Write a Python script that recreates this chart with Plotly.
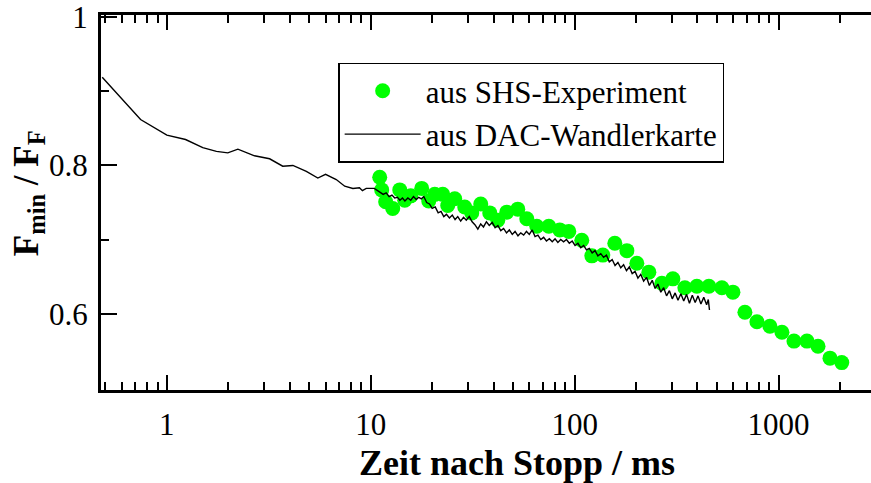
import plotly.graph_objects as go

# ---- data ----
shs_t = [11.06, 11.31, 11.83, 12.81, 13.87, 14.67, 15.70, 17.77, 19.24, 20.59,
         22.53, 23.84, 25.80, 28.89, 31.27, 34.61, 38.32, 41.95, 46.44, 52.58,
         58.21, 65.17, 74.65, 84.54, 93.55, 108.3, 121.3, 137.4, 157.3, 180.2,
         201.7, 231.0, 267.6, 302.9, 346.9, 397.2, 455.0, 527.0, 596.8, 683.4,
         782.6, 906.5, 1038, 1189, 1377, 1560, 1786, 2040]
shs_f = [0.784, 0.767, 0.751, 0.742, 0.767, 0.753, 0.759, 0.769, 0.752, 0.761,
         0.761, 0.746, 0.755, 0.744, 0.736, 0.748, 0.736, 0.726, 0.737, 0.741,
         0.728, 0.718, 0.718, 0.713, 0.711, 0.699, 0.678, 0.679, 0.695, 0.685,
         0.668, 0.656, 0.641, 0.647, 0.635, 0.637, 0.637, 0.635, 0.629, 0.602,
         0.589, 0.583, 0.575, 0.563, 0.563, 0.556, 0.540, 0.534]

dac_t = [0.482, 0.743, 1.0, 1.235, 1.5, 1.75, 1.99, 2.23, 2.69, 3.19, 3.70, 4.15,
         4.83, 5.5, 6.0, 6.77, 7.45, 8.17, 8.8, 9.1, 9.5, 10.0,
         10.4, 10.8, 11.2, 11.5, 11.9, 12.3, 12.7, 13.1, 13.5, 13.9, 14.3, 14.7,
         15.2, 15.7, 16.2, 16.7, 17.2, 17.7, 18.2, 18.8, 19.4, 20.0, 20.7, 21.4,
         22.1, 22.8, 23.5, 24.3, 25.1, 25.9, 26.7, 27.6, 28.5, 29.4, 30.4, 31.4,
         32.4, 33.5, 34.6, 35.7, 36.9, 38.1, 39.4, 40.7, 42.0, 43.4, 44.8, 46.3,
         47.8, 49.4, 51.0, 52.7, 54.4, 56.2, 58.0, 59.9, 61.9, 63.9, 66.0, 68.2,
         70.4, 72.7, 75.1, 77.6, 80.1, 82.7, 85.4, 88.2, 91.1, 94.1, 97.2, 100.4,
         103.7, 107.1, 110.6, 114.2, 117.9, 121.8, 125.8, 129.9, 134.2, 138.6,
         143.1, 147.8, 152.7, 157.7, 162.9, 168.2, 173.7, 179.4, 185.3, 191.4,
         197.7, 204.2, 210.9, 217.8, 225.0, 232.4, 240.0, 247.9, 256.0, 264.4,
         273.1, 282.1, 291.4, 300.9, 310.8, 321.0, 331.6, 342.5, 353.7, 365.3,
         377.3, 389.7, 402.5, 415.8, 429.4, 443.5, 452.0, 458.0]
dac_f = [0.919, 0.862, 0.841, 0.835, 0.824, 0.819, 0.817, 0.822, 0.813, 0.809, 0.799, 0.800,
         0.792, 0.783, 0.788, 0.781, 0.772, 0.769, 0.770, 0.766, 0.769, 0.769,
         0.769, 0.766, 0.763, 0.761, 0.763, 0.758, 0.760, 0.756, 0.757, 0.753, 0.756, 0.752,
         0.756, 0.753, 0.758, 0.754, 0.757, 0.755, 0.758, 0.750, 0.748, 0.742, 0.744, 0.736,
         0.738, 0.731, 0.734, 0.729, 0.733, 0.727, 0.731, 0.725, 0.730, 0.726, 0.731, 0.724,
         0.720, 0.714, 0.721, 0.717, 0.724, 0.719, 0.723, 0.716, 0.719, 0.712, 0.715, 0.709,
         0.713, 0.707, 0.711, 0.705, 0.709, 0.706, 0.711, 0.707, 0.713, 0.704, 0.706, 0.700,
         0.703, 0.698, 0.701, 0.697, 0.701, 0.696, 0.700, 0.697, 0.700, 0.695, 0.698, 0.692,
         0.695, 0.689, 0.692, 0.686, 0.688, 0.682, 0.685, 0.678, 0.681, 0.676,
         0.679, 0.670, 0.673, 0.665, 0.669, 0.662, 0.666, 0.658, 0.663, 0.654,
         0.657, 0.648, 0.653, 0.644, 0.649, 0.638, 0.645, 0.634, 0.640, 0.629,
         0.635, 0.624, 0.631, 0.620, 0.628, 0.618, 0.627, 0.617, 0.626, 0.614,
         0.625, 0.615, 0.624, 0.613, 0.622, 0.612, 0.619, 0.605]

x_tickvals = [1, 10, 100, 1000]
x_ticktext = ["1", "10", "100", "1000"]
x_minor = [0.5, 0.6, 0.7, 0.8, 0.9, 2, 3, 4, 5, 6, 7, 8, 9, 20, 30, 40, 50, 60, 70, 80, 90,
           200, 300, 400, 500, 600, 700, 800, 900, 2000, 3000]
y_tickvals = [0.6, 0.8, 1.0]
y_ticktext = ["0.6", "0.8", "1"]
y_minor = [0.7, 0.9]

FONT = "Liberation Serif"

fig = go.Figure()
fig.add_trace(go.Scatter(x=shs_t, y=shs_f, mode="markers", name="aus SHS-Experiment",
                         marker=dict(color="#00ff00", size=15, line=dict(width=0))))
fig.add_trace(go.Scatter(x=dac_t, y=dac_f, mode="lines", name="aus DAC-Wandlerkarte",
                         line=dict(color="black", width=1.4)))

fig.update_layout(
    width=871, height=483,
    margin=dict(l=101, r=0, t=15, b=93),
    paper_bgcolor="white", plot_bgcolor="white",
    font=dict(family=FONT, color="black"),
    showlegend=True,
    legend=dict(x=0.308, y=0.873, xanchor="left", yanchor="top",
                bordercolor="black", borderwidth=1.5, bgcolor="white",
                font=dict(family=FONT, size=31, color="black"),
                itemwidth=76, tracegroupgap=0),
    xaxis=dict(type="log", range=[-0.323, 3.453],
               showline=True, linewidth=3, linecolor="black", mirror="allticks",
               ticks="inside", ticklen=15, tickwidth=1.5, tickcolor="black",
               tickvals=x_tickvals, ticktext=x_ticktext,
               tickfont=dict(family=FONT, size=31),
               minor=dict(ticks="inside", ticklen=8, tickwidth=1.5, tickcolor="black",
                          tickvals=x_minor, showgrid=False),
               showgrid=False, zeroline=False, ticklabelstandoff=5),
    yaxis=dict(range=[0.497, 1.003],
               showline=True, linewidth=3, linecolor="black", mirror=False,
               ticks="inside", ticklen=16, tickwidth=1.5, tickcolor="black",
               tickvals=y_tickvals, ticktext=y_ticktext,
               tickfont=dict(family=FONT, size=31),
               minor=dict(ticks="inside", ticklen=8, tickwidth=1.5, tickcolor="black",
                          tickvals=y_minor, showgrid=False),
               showgrid=False, zeroline=False, ticklabelstandoff=4),
    annotations=[
        dict(text="<b>Zeit nach Stopp / ms</b>", xref="paper", yref="paper",
             x=0.54, y=-0.195, xanchor="center", yanchor="middle", showarrow=False,
             font=dict(family=FONT, size=36, color="black")),
        dict(text="<b>F<sub>min</sub> / F<sub>F</sub></b>", xref="paper", yref="paper",
             x=-0.0948, y=0.525, xanchor="center", yanchor="middle", showarrow=False,
             textangle=-90, font=dict(family=FONT, size=35, color="black")),
    ],
)

fig.write_html("out.html")
